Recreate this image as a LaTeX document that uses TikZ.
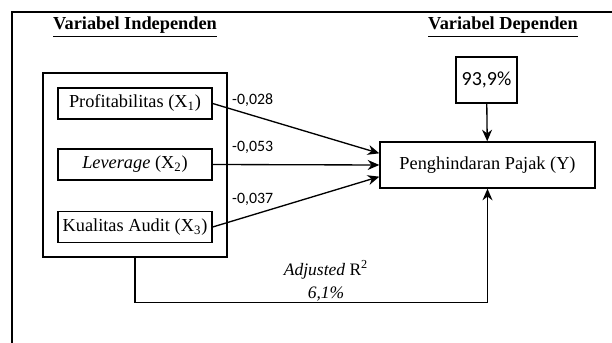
\documentclass[tikz,border=0pt]{standalone}
\usepackage{fontspec}
\setmainfont{Liberation Serif}
\newfontfamily\lblfont{Carlito}
\usetikzlibrary{arrows.meta}

\begin{document}
\begin{tikzpicture}[x=0.6pt, y=-0.6pt, thick, >={Stealth[length=7pt,width=6pt]},
  main/.style = {draw, minimum width=92.4pt, minimum height=18.6pt, inner sep=1pt, font=\fontsize{11}{13}\selectfont},
  dep/.style = {draw, minimum width=129pt, minimum height=27.6pt, inner sep=1pt, font=\fontsize{11}{13}\selectfont},
  head/.style = {font=\fontsize{11}{13}\selectfont\bfseries},
  coef/.style = {font=\lblfont\fontsize{9.5}{11}\selectfont, inner sep=1pt}]
\useasboundingbox (0,0) rectangle (612,343);
\draw[line width=0.7pt] (12,343) -- (12,12) -- (612,12);
\node[head] (h1) at (135,27) {\underline{Variabel Independen}};
\node[head] (h2) at (503,27) {\underline{Variabel Dependen}};
\node[draw, minimum width=110.4pt, minimum height=110.4pt] (g) at (135,165) {};
\node[main] (1) at (135,103.5) {Profitabilitas (X\textsubscript{1})};
\node[main] (2) at (135,164.5) {\textit{Leverage} (X\textsubscript{2})};
\node[main] (3) at (135,227) {Kualitas Audit (X\textsubscript{3})};
\node[dep] (4) at (487.5,165) {Penghindaran Pajak (Y)};
\node[draw, minimum width=36.6pt, minimum height=27.6pt, inner sep=1pt, font=\lblfont\fontsize{12}{14}\selectfont] (5) at (486.5,80) {93,9\%};
\draw[->] (1.east) -- node[coef, pos=0.24, above, yshift=4pt] {-0,028} ([yshift=7pt]4.west);
\draw[->] (2.east) -- node[coef, pos=0.24, above, yshift=5pt] {-0,053} (4.west);
\draw[->] (3.east) -- node[coef, pos=0.24, above, yshift=4pt] {-0,037} ([yshift=-7pt]4.west);
\draw[->] (5) -- (4);
\draw[->] (g.south) -- ++(0,45) -| node[pos=0.271, above, align=center, inner sep=0.5pt, font=\fontsize{10.5}{14}\selectfont] {\textit{Adjusted} R\textsuperscript{2}\\\textit{6,1\%}} (4.south);
\end{tikzpicture}
\end{document}
